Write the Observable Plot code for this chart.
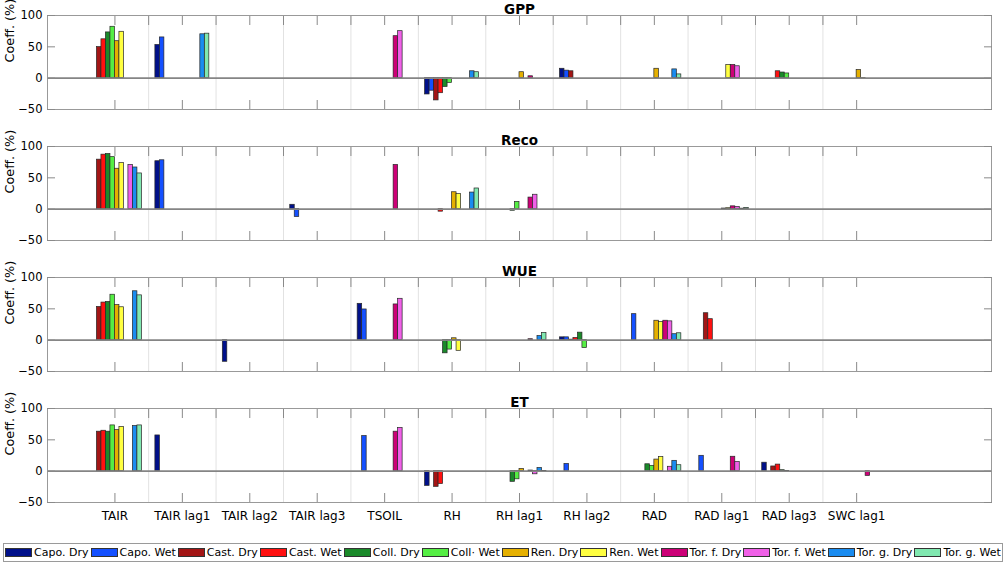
<!DOCTYPE html>
<html><head><meta charset="utf-8">
<script src="https://cdn.jsdelivr.net/npm/d3@7"></script>
<script src="https://cdn.jsdelivr.net/npm/@observablehq/plot@0.6"></script>
<style>
body{margin:0;background:#fff;font-family:"DejaVu Sans",sans-serif;}
#chart svg{display:block}
#legend{margin:19px 0 0 3px;width:996px;height:17px;border:1px solid #9a9a9a;display:flex;align-items:center;justify-content:space-between;padding:0 1px 0 1px;font-size:11px;color:#000;box-sizing:content-box}
#legend .item{display:flex;align-items:center;white-space:nowrap}
#legend .sw{width:25px;height:7px;border:1px solid #333;margin-right:2px}
</style></head><body><div id="chart"></div><div id="legend"></div>
<script>
const categories = ["TAIR","TAIR lag1","TAIR lag2","TAIR lag3","TSOIL","RH","RH lag1","RH lag2","RAD","RAD lag1","RAD lag3","SWC lag1"];
const seriesNames = ["Capo. Dry","Capo. Wet","Cast. Dry","Cast. Wet","Coll. Dry","Coll\u00b7 Wet","Ren. Dry","Ren. Wet","Tor. f. Dry","Tor. f. Wet","Tor. g. Dry","Tor. g. Wet"];
const seriesColors = ["#00108a","#1450ff","#a31515","#ff1010","#1a8a2a","#55ee44","#e5b000","#ffff40","#cc0077","#f060e8","#1a8cf0","#80e8b0"];
const yTicks = [-50, 0, 50, 100];

// rows = categories, columns = series (order of seriesNames)
const gpp = [
  [0,0,49.5,62,73,82,59,74,0,0,0,0],
  [53,65,0,0,0,0,0,0,0,0,70,71],
  [0,0,0,0,0,0,0,0,0,0,0,0],
  [0,0,0,0,0,0,0,0,0,0,0,0],
  [0,0,0,0,0,0,0,0,67,75,0,0],
  [-26,-20,-35.5,-24,-14,-7.5,0,0,0,0,11,9.5],
  [0,0,0,0,0,0,9.5,0,3,0,0,0],
  [15,12,11,0,0,0,0,0,0,0,0,0],
  [0,0,0,0,0,0,15,0,0,0,14,6],
  [0,0,0,0,0,0,0,21,21,19,0,0],
  [0,0,0,11,9,7.5,0,0,0,0,0,0],
  [0,0,0,0,0,0,13,-1.5,0,0,0,0]
];
const reco = [
  [0,0,79,87,88,83,64.5,73.5,0,70.5,66.5,57],
  [76.5,78,0,0,0,0,0,0,0,0,0,0],
  [0,0,0,0,0,0,0,0,0,0,0,0],
  [7,-12.5,0,0,0,0,0,0,0,0,0,0],
  [0,0,0,0,0,0,0,0,70.5,0,0,0],
  [0,0,0,-4,0,0,27,24,0,0,26.5,33],
  [0,0,0,0,-2.5,11.5,0,0,18.5,23,0,0],
  [0,0,0,0,0,0,0,0,0,0,0,0],
  [0,0,0,0,0,0,0,0,0,0,0,0],
  [0,0,0,0,0,0,1,1.5,4.5,3.5,0.8,2],
  [0,0,0,0,0,0,0,0,0,0,0,0],
  [0,0,0,0,0,0,0,0,0,0,0,0]
];
const wue = [
  [0,0,53,60,61,72.5,56,52.5,0,0,78,71.5],
  [0,0,0,0,0,0,0,0,0,0,0,0],
  [-34.5,0,0,0,0,0,0,0,0,0,0,0],
  [0,0,0,0,0,0,0,0,0,0,0,0],
  [58,49,0,0,0,0,0,0,57,66,0,0],
  [0,0,0,0,-21,-15,3,-17,0,0,0,0],
  [0,0,0,0,0,0,0,0,1.5,0,6.5,11.5],
  [4.5,4.5,0.8,3.5,12,-12.5,0,0,0,0,0,0],
  [0,41.5,0,0,0,0,31,29,31,30,9.5,11],
  [0,0,43,33.5,0,0,0,0,0,0,0,0],
  [0,0,0,0,0,0,0,0,0,0,0,0],
  [0,0,0,0,0,0,0,0,0,0,0,0]
];
const et = [
  [0,0,63,64.5,63,73,65.5,70.5,0,0,72,73],
  [57,0,0,0,0,0,0,0,0,0,0,0],
  [0,0,0,0,0,0,0,0,0,0,0,0],
  [0,0,0,0,0,0,0,0,0,0,0,0],
  [0,56,0,0,0,0,0,0,63,69,0,0],
  [-23.5,0,-25,-20.5,0,0,0,0,0,0,0,0],
  [0,0,0,0,-17,-13,3.5,0,1,-5,5,0.5],
  [0,11.5,0,0,0,0,0,0,0,0,0,0],
  [0,0,0,0,11,8.5,18.5,22.5,0,7,16.5,9.5],
  [0,24.5,0,0,0,0,0,0,23,14.5,0,0],
  [13.5,0,7.5,10.5,1.5,0.5,0,0,0,0,0,0],
  [0,0,0,0,0,0,0,0,-7.5,0,0,0]
];
const panelTitles = ["GPP","Reco","WUE","ET"];
const panelValues = [gpp, reco, wue, et];

const groupWidth = 0.8;
const barW = groupWidth / seriesNames.length;
const axisGray = "#8a8a8a";

function toRows(values) {
  const rows = [];
  values.forEach((row, ci) => row.forEach((v, si) => {
    if (v !== 0) rows.push({cat: ci + 1, s: si, name: seriesNames[si], v});
  }));
  return rows;
}

const container = document.getElementById("chart");
panelTitles.forEach((title, k) => {
  const isLast = k === panelTitles.length - 1;
  const data = toRows(panelValues[k]);
  const marks = [
    Plot.gridX(d3.range(1.5, 12, 1), {stroke: "#e2e2e2", strokeOpacity: 1}),
    Plot.rect(data, {
      x1: d => d.cat - groupWidth / 2 + d.s * barW,
      x2: d => d.cat - groupWidth / 2 + (d.s + 1) * barW,
      y1: 0, y2: "v", fill: "name", stroke: "#262626", strokeWidth: 0.7
    }),
    Plot.ruleY([0], {stroke: "#858585", strokeWidth: 1.6}),
    Plot.frame({stroke: "#999"}),
    Plot.axisX({anchor: "top", ticks: d3.range(1, 12.01, 0.5), tickSize: 9, dy: 9, fill: "none", label: null, stroke: axisGray}),
    Plot.axisX({anchor: "bottom", ticks: d3.range(1, 13), tickSize: 9, dy: -9, fill: "none", label: null, stroke: axisGray}),
    Plot.axisY({anchor: "left", ticks: yTicks, tickSize: 8, dx: 8, fill: "none", label: null, stroke: axisGray}),
    Plot.axisY({anchor: "right", ticks: yTicks, tickSize: 8, dx: -8, fill: "none", label: null, stroke: axisGray}),
    Plot.axisY({anchor: "left", ticks: yTicks, tickSize: 0, tickPadding: 5, label: null, fontSize: 11.5}),
    Plot.text([title], {text: d => d, frameAnchor: "top", dy: -11.5, fontWeight: "bold", fontSize: 13.5}),
    Plot.text(["Coeff. (%)"], {text: d => d, frameAnchor: "left", dx: -38, rotate: -90, fontSize: 12.8})
  ];
  if (isLast) {
    marks.push(Plot.axisX({anchor: "bottom", ticks: d3.range(1, 13), tickFormat: i => categories[i - 1], tickSize: 0, tickPadding: 9, label: null, fontSize: 12}));
  }
  const chart = Plot.plot({
    width: 1004, height: 131,
    marginTop: 15, marginBottom: 22, marginLeft: 47, marginRight: 13,
    style: {fontFamily: "DejaVu Sans", background: "white", color: "#000", overflow: "visible"},
    x: {domain: [0, 14]},
    y: {domain: [-50, 100]},
    color: {domain: seriesNames, range: seriesColors},
    marks
  });
  container.appendChild(chart);
});

const legend = d3.select("#legend");
seriesNames.forEach((name, i) => {
  const item = legend.append("div").attr("class", "item");
  item.append("span").attr("class", "sw").style("background", seriesColors[i]);
  item.append("span").text(name);
});
</script>
</body></html>
